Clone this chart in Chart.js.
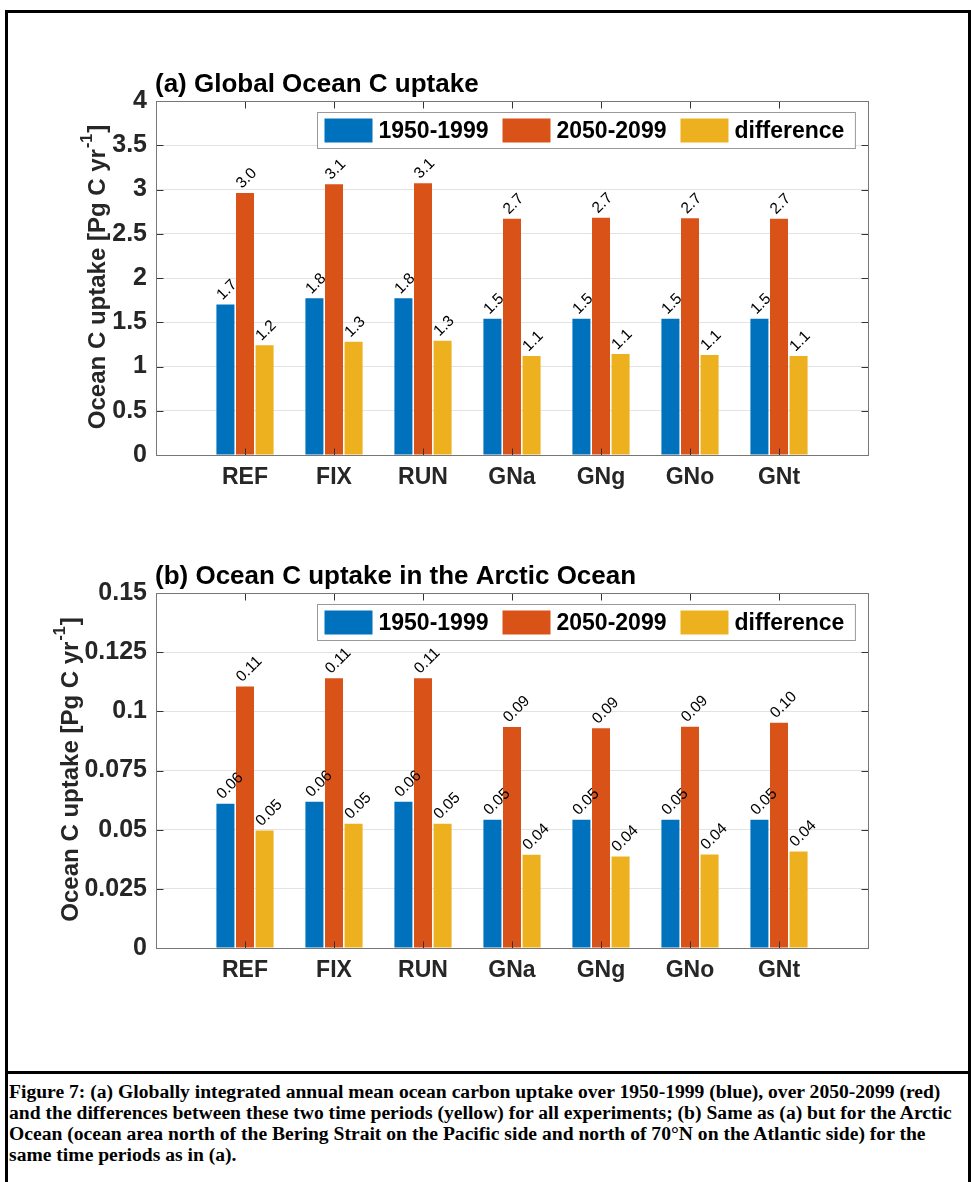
<!DOCTYPE html>
<html>
<head>
<meta charset="utf-8">
<script src="https://cdn.jsdelivr.net/npm/chart.js@4.4.0/dist/chart.umd.min.js"></script>
<style>
  body { margin: 0; background: #fff; width: 971px; height: 1182px; position: relative; overflow: hidden; }
  .frame { position: absolute; left: 5px; top: 10px; width: 966px; height: 1180px; border: 3px solid #000; border-bottom: none; box-sizing: border-box; }
  .sep { position: absolute; left: 5px; top: 1071px; width: 966px; height: 3px; background: #000; }
  canvas { position: absolute; left: 0; }
  #caption { position: absolute; left: 9px; top: 1081px; font: bold 19.6px "Liberation Serif", "Times New Roman", serif; line-height: 21px; white-space: nowrap; color: #000; }
</style>
</head>
<body>
<div class="frame"></div>
<div class="sep"></div>
<canvas id="chartA" width="971" height="470" style="top:50px"></canvas>
<canvas id="chartB" width="971" height="470" style="top:540px"></canvas>
<div id="caption">
  <div>Figure 7: (a) Globally integrated annual mean ocean carbon uptake over 1950-1999 (blue), over 2050-2099 (red)</div>
  <div>and the differences between these two time periods (yellow) for all experiments; (b) Same as (a) but for the Arctic</div>
  <div>Ocean (ocean area north of the Bering Strait on the Pacific side and north of 70°N on the Atlantic side) for the</div>
  <div>same time periods as in (a).</div>
</div>
<script>
const experiments = ['REF', 'FIX', 'RUN', 'GNa', 'GNg', 'GNo', 'GNt'];
const seriesNames = ['1950-1999', '2050-2099', 'difference'];
const barColors = ['#0072BD', '#D95319', '#EDB120'];

// (a) global, Pg C / yr
const globalPast   = [1.70, 1.77, 1.77, 1.54, 1.54, 1.54, 1.54];
const globalFuture = [2.96, 3.06, 3.07, 2.67, 2.68, 2.675, 2.67];
const globalDiff   = [1.24, 1.28, 1.29, 1.12, 1.14, 1.13, 1.12];
const yTicksGlobal = ['0', '0.5', '1', '1.5', '2', '2.5', '3', '3.5', '4'];

// (b) arctic, Pg C / yr
const arcticPast   = [0.0610, 0.0618, 0.0618, 0.0542, 0.0542, 0.0542, 0.0542];
const arcticFuture = [0.1105, 0.1140, 0.1140, 0.0934, 0.0928, 0.0935, 0.0952];
const arcticDiff   = [0.0496, 0.0525, 0.0525, 0.0394, 0.0387, 0.0395, 0.0408];
const yTicksArctic = ['0', '0.025', '0.05', '0.075', '0.1', '0.125', '0.15'];

const FONT = '"Liberation Sans", Arial, Helvetica, sans-serif';
Chart.defaults.font.family = FONT;

const figDecor = {
  id: 'figDecor',
  afterDatasetsDraw(chart, args, o) {
    const ctx = chart.ctx;
    ctx.save();
    ctx.font = '15.5px ' + FONT;
    ctx.fillStyle = '#000';
    ctx.textAlign = 'left';
    ctx.textBaseline = 'middle';
    chart.data.datasets.forEach((ds, k) => {
      chart.getDatasetMeta(k).data.forEach((bar, i) => {
        ctx.save();
        ctx.translate(bar.x - 6, bar.y - 7);
        ctx.rotate(-Math.PI / 4);
        ctx.fillText(ds.data[i].y.toFixed(o.decimals), 0, 0);
        ctx.restore();
      });
    });
    ctx.restore();
  },
  afterDraw(chart, args, o) {
    const ctx = chart.ctx;
    const a = chart.chartArea;
    const L = Math.round(a.left) + 0.5, R = Math.round(a.right) + 0.5;
    const T = Math.round(a.top) + 0.5, B = Math.round(a.bottom) + 0.5;
    ctx.save();

    // inner ticks
    ctx.strokeStyle = '#333';
    ctx.lineWidth = 1;
    ctx.beginPath();
    experiments.forEach((e, i) => {
      const px = Math.round(chart.scales.x.getPixelForValue(i + 1)) + 0.5;
      ctx.moveTo(px, B); ctx.lineTo(px, B - 7);
      ctx.moveTo(px, T); ctx.lineTo(px, T + 7);
    });
    chart.scales.y.ticks.forEach(t => {
      const py = Math.round(chart.scales.y.getPixelForValue(t.value)) + 0.5;
      ctx.moveTo(L, py); ctx.lineTo(L + 7, py);
      ctx.moveTo(R, py); ctx.lineTo(R - 7, py);
    });
    ctx.stroke();

    // axes box
    ctx.strokeStyle = '#777';
    ctx.strokeRect(L, T, R - L, B - T);

    // title
    ctx.fillStyle = '#000';
    ctx.font = 'bold 26px ' + FONT;
    ctx.textAlign = 'left';
    ctx.textBaseline = 'alphabetic';
    ctx.fillText(o.title, a.left - 1, a.top - 9);

    // y axis label with superscript
    ctx.save();
    ctx.translate(o.ylabelX, (a.top + a.bottom) / 2);
    ctx.rotate(-Math.PI / 2);
    ctx.fillStyle = '#262626';
    ctx.textBaseline = 'middle';
    const main = 'Ocean C uptake [Pg C yr', sup = '-1', end = ']';
    ctx.font = 'bold 24px ' + FONT;
    const w1 = ctx.measureText(main).width, w3 = ctx.measureText(end).width;
    ctx.font = 'bold 16px ' + FONT;
    const w2 = ctx.measureText(sup).width;
    let x = -(w1 + w2 + w3) / 2;
    ctx.font = 'bold 24px ' + FONT;
    ctx.fillText(main, x, 0);
    ctx.font = 'bold 16px ' + FONT;
    ctx.fillText(sup, x + w1 + 1, -10);
    ctx.font = 'bold 24px ' + FONT;
    ctx.fillText(end, x + w1 + w2 + 2, 0);
    ctx.restore();

    // legend
    ctx.font = 'bold 23px ' + FONT;
    const items = chart.data.datasets.map(d => ({ label: d.label, color: d.backgroundColor, w: ctx.measureText(d.label).width }));
    const sw = 48, sh = 24, gapText = 6, gapItem = 14, padL = 7, padR = 11, boxH = 36;
    let total = padL + padR + gapItem * (items.length - 1);
    items.forEach(it => { total += sw + gapText + it.w; });
    const bx = Math.round(a.right - 13 - total) + 0.5, by = Math.round(a.top + 11) + 0.5;
    ctx.fillStyle = '#fff';
    ctx.fillRect(bx, by, total, boxH);
    ctx.strokeStyle = '#999';
    ctx.strokeRect(bx, by, total, boxH);
    let cx = bx + padL;
    ctx.textBaseline = 'middle';
    items.forEach(it => {
      ctx.fillStyle = it.color;
      ctx.fillRect(cx, by + 6, sw, sh);
      ctx.fillStyle = '#000';
      ctx.fillText(it.label, cx + sw + gapText, by + boxH / 2 + 1);
      cx += sw + gapText + it.w + gapItem;
    });

    ctx.restore();
  }
};

function makeChart(id, past, future, diff, yTicks, padTop, xAxisH, decor) {
  const yMax = parseFloat(yTicks[yTicks.length - 1]);
  const yStep = parseFloat(yTicks[1]);
  return new Chart(document.getElementById(id), {
    type: 'bar',
    data: {
      datasets: [past, future, diff].map((vals, k) => ({
        label: seriesNames[k],
        data: vals.map((v, i) => ({ x: i + 1, y: v })),
        backgroundColor: barColors[k],
        borderWidth: 0,
        categoryPercentage: 0.66,
        barPercentage: 0.92
      }))
    },
    options: {
      responsive: false,
      animation: false,
      layout: { padding: { left: 0, right: 103, top: padTop, bottom: 0 } },
      plugins: {
        legend: { display: false },
        tooltip: { enabled: false },
        figDecor: decor
      },
      scales: {
        x: {
          type: 'linear',
          min: 0,
          max: 8,
          offset: false,
          grid: { display: false, offset: false, drawTicks: false },
          border: { display: false },
          ticks: {
            stepSize: 1,
            autoSkip: false,
            maxRotation: 0,
            padding: 9,
            color: '#262626',
            font: { size: 23, weight: 'bold' },
            callback: v => experiments[v - 1] || ''
          },
          afterFit: s => { s.height = xAxisH; }
        },
        y: {
          min: 0,
          max: yMax,
          grid: { color: '#e3e3e3', drawTicks: false },
          border: { display: false },
          ticks: {
            stepSize: yStep,
            padding: 9,
            color: '#262626',
            font: { size: 25, weight: 'bold' },
            callback: (v, i) => yTicks[i]
          },
          afterFit: s => { s.width = 156; }
        }
      }
    },
    plugins: [figDecor]
  });
}

makeChart('chartA', globalPast, globalFuture, globalDiff, yTicksGlobal, 51, 65,
  { title: '(a) Global Ocean C uptake', ylabelX: 98, decimals: 1 });
makeChart('chartB', arcticPast, arcticFuture, arcticDiff, yTicksArctic, 53, 62,
  { title: '(b) Ocean C uptake in the Arctic Ocean', ylabelX: 71, decimals: 2 });
</script>
</body>
</html>
